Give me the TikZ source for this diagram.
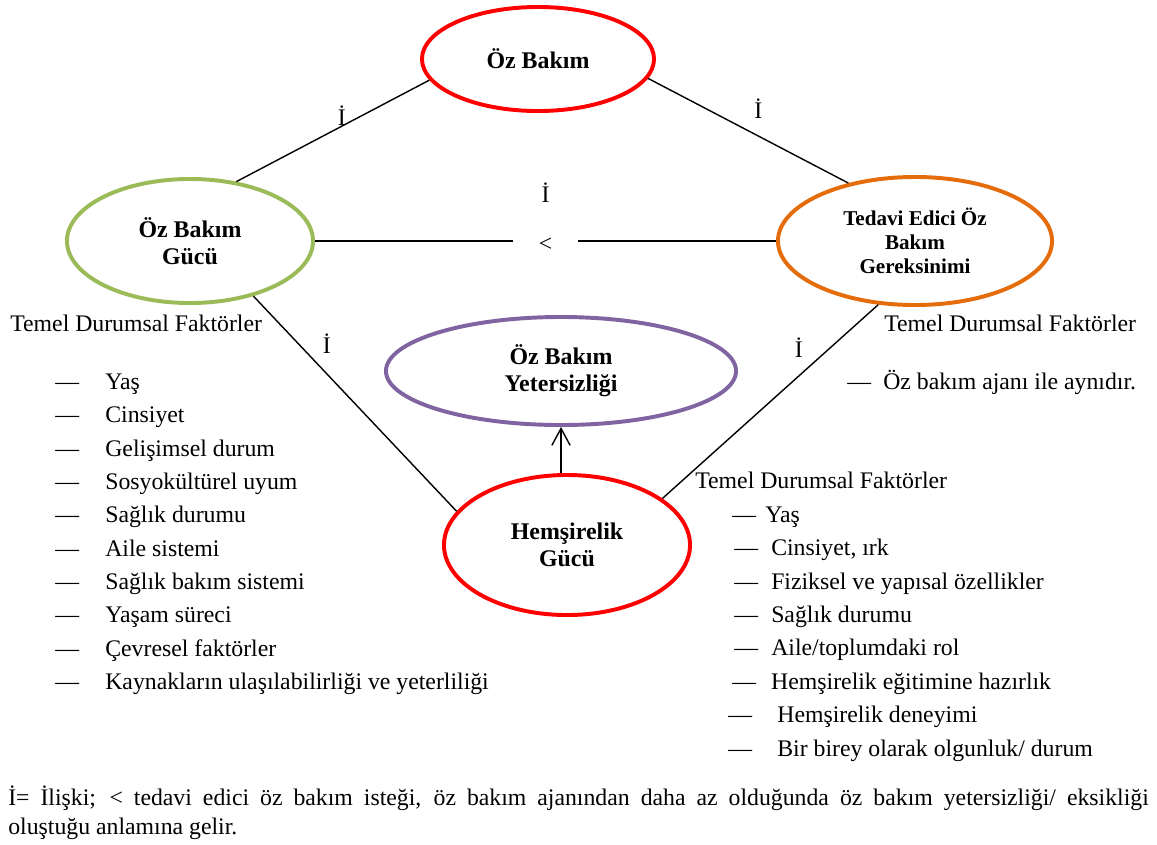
\documentclass[tikz,border=0pt]{standalone}
\usepackage{fontspec}
\setmainfont{Liberation Serif}
\usetikzlibrary{arrows.meta, shapes.geometric}
\definecolor{kirmizi}{HTML}{FF0000}
\definecolor{yesil}{HTML}{9BBB59}
\definecolor{turuncu}{HTML}{E46C0A}
\definecolor{mor}{HTML}{8064A2}
\tikzset{
  >={Straight Barb[length=12pt,width=13pt]},
  kavram/.style = {ellipse, line width=2.8pt, align=center, inner sep=0pt,
                   font=\fontsize{17}{19}\selectfont\bfseries},
  iliski/.style = {line width=1pt},
  metin/.style = {anchor=base west, inner sep=0pt,
                  font=\fontsize{16.9}{20}\selectfont},
  etiket/.style = {inner sep=0pt, font=\fontsize{16.9}{20}\selectfont},
}
\begin{document}
\begin{tikzpicture}[x=0.025cm, y=-0.025cm]
  \useasboundingbox (0,0) rectangle (1157,844);

  % kavramlar
  \node (ozbakim) [kavram, draw=kirmizi, minimum width=5.8cm, minimum height=2.6cm] at (538,59) {Öz Bakım};
  \node (gucu) [kavram, draw=yesil, minimum width=6.15cm, minimum height=3.1cm] at (190,241) {Öz Bakım\\Gücü};
  \node (tedavi) [kavram, draw=turuncu, minimum width=6.85cm, minimum height=3.2cm,
                  font=\fontsize{15}{17}\selectfont\bfseries] at (915,241) {Tedavi Edici Öz\\Bakım\\Gereksinimi};
  \node (yetersizlik) [kavram, draw=mor, minimum width=8.75cm, minimum height=2.7cm] at (561,371) {Öz Bakım\\Yetersizliği};
  \node (hemsirelik) [kavram, draw=kirmizi, minimum width=6.15cm, minimum height=3.5cm] at (567,545) {Hemşirelik\\Gücü};

  % ilişkiler
  \draw[iliski] (ozbakim.191) -- node[etiket, midway, xshift=.22cm, yshift=.38cm] (i1) {İ} (gucu.52);
  \draw[iliski] (ozbakim.350) -- node[etiket, midway, xshift=.25cm, yshift=.55cm] (i2) {İ} (tedavi.139);
  \draw[iliski] (gucu) -- node[etiket, midway, fill=white, minimum width=1.625cm, yshift=-.1cm] (kucuk) {<}
                          node[etiket, midway, yshift=1.2cm] (i3) {İ} (tedavi);
  \draw[iliski] (gucu.319) -- node[etiket, pos=.22, xshift=.72cm] (i4) {İ} (hemsirelik.163);
  \draw[iliski] (tedavi.240) -- node[etiket, pos=.22, xshift=-.8cm] (i5) {İ} (hemsirelik.26);
  \draw[iliski, ->] (hemsirelik.north -| yetersizlik.south) -- (yetersizlik.south);

  % sol faktörler
  \node (sol) [metin] at (10,331) {Temel Durumsal Faktörler};
  \node (s1) [metin] at (55,389) {\makebox[35.6pt][l]{—}Yaş};
  \node (s2) [metin] at (55,422) {\makebox[35.6pt][l]{—}Cinsiyet};
  \node (s3) [metin] at (55,456) {\makebox[35.6pt][l]{—}Gelişimsel durum};
  \node (s4) [metin] at (55,489) {\makebox[35.6pt][l]{—}Sosyokültürel uyum};
  \node (s5) [metin] at (55,522) {\makebox[35.6pt][l]{—}Sağlık durumu};
  \node (s6) [metin] at (55,556) {\makebox[35.6pt][l]{—}Aile sistemi};
  \node (s7) [metin] at (55,589) {\makebox[35.6pt][l]{—}Sağlık bakım sistemi};
  \node (s8) [metin] at (55,622) {\makebox[35.6pt][l]{—}Yaşam süreci};
  \node (s9) [metin] at (55,656) {\makebox[35.6pt][l]{—}Çevresel faktörler};
  \node (s10) [metin] at (55,689) {\makebox[35.6pt][l]{—}Kaynakların ulaşılabilirliği ve yeterliliği};

  % sağ üst faktörler
  \node (sag) [metin] at (884,331) {Temel Durumsal Faktörler};
  \node (sag1) [metin] at (847,389) {\makebox[25.6pt][l]{—}Öz bakım ajanı ile aynıdır.};

  % hemşire faktörleri
  \node (alt) [metin] at (695,488) {Temel Durumsal Faktörler};
  \node (a1) [metin] at (732,522) {\makebox[23.5pt][l]{—}Yaş};
  \node (a2) [metin] at (734,555) {\makebox[26.3pt][l]{—}Cinsiyet, ırk};
  \node (a3) [metin] at (734,589) {\makebox[26.3pt][l]{—}Fiziksel ve yapısal özellikler};
  \node (a4) [metin] at (734,622) {\makebox[26.3pt][l]{—}Sağlık durumu};
  \node (a5) [metin] at (734,655) {\makebox[26.3pt][l]{—}Aile/toplumdaki rol};
  \node (a6) [metin] at (732,689) {\makebox[27.7pt][l]{—}Hemşirelik eğitimine hazırlık};
  \node (a7) [metin] at (728,722) {\makebox[34.9pt][l]{—}Hemşirelik deneyimi};
  \node (a8) [metin] at (728,756) {\makebox[34.9pt][l]{—}Bir birey olarak olgunluk/ durum};

  % açıklama
  \node (aciklama) [anchor=north west, inner sep=0pt, text width=811pt, align=justify,
                    font={\fontsize{16.9}{20}\selectfont\tolerance=9999}] at (8,786)
    {İ= İlişki; < tedavi edici öz bakım isteği, öz bakım ajanından daha az olduğunda öz bakım yetersizliği/ eksikliği\linebreak oluştuğu anlamına gelir.};
\end{tikzpicture}
\end{document}
